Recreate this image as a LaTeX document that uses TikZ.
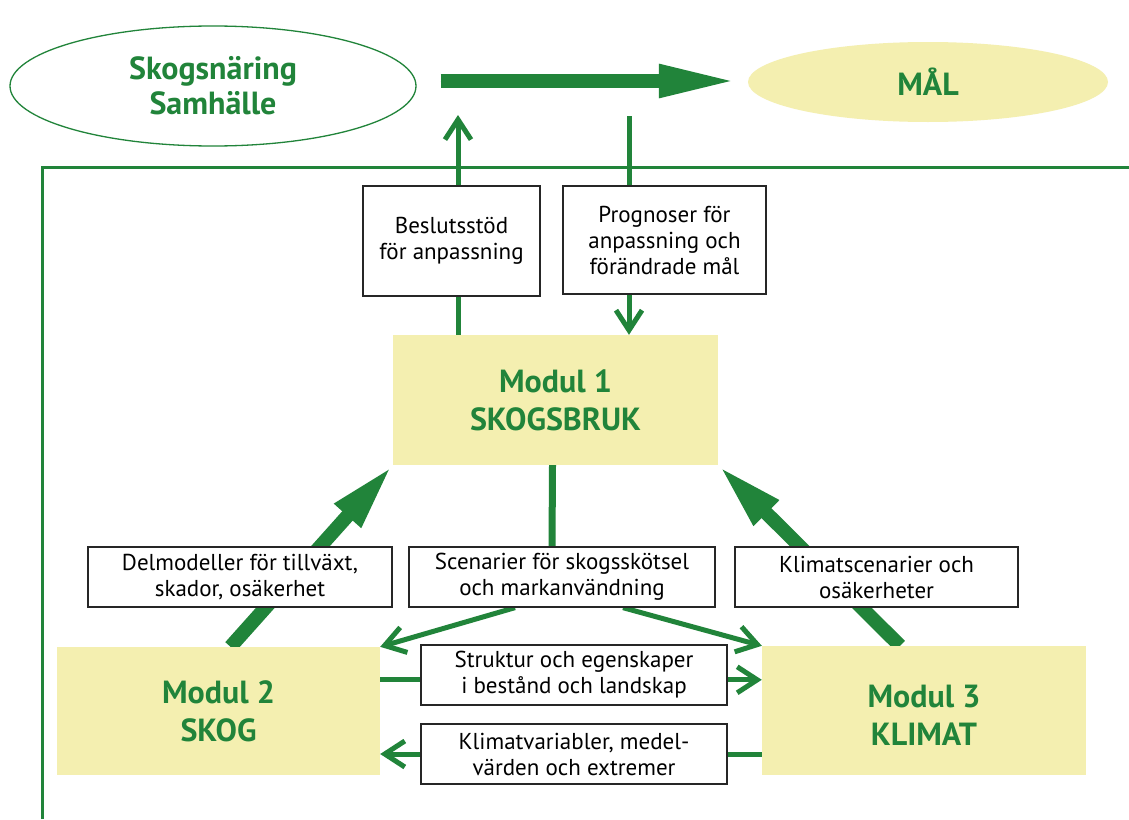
\documentclass[tikz,border=0pt]{standalone}
\usepackage{fontspec}
\setmainfont{PT Sans}
\usetikzlibrary{arrows.meta,calc,shapes.geometric}
\definecolor{fgreen}{RGB}{33,132,58}
\definecolor{fyellow}{RGB}{244,239,176}
\pgfdeclarelayer{paper}
\pgfdeclarelayer{bg}
\pgfsetlayers{paper,bg,main}
\begin{document}
\begin{tikzpicture}[x=1pt,y=-1pt,
  txtbox/.style={draw=black!85, line width=1.3pt, fill=white, align=center,
    font=\fontsize{23}{26}\selectfont, inner sep=0pt},
  modbox/.style={fill=fyellow, align=center, text=fgreen,
    font=\fontsize{32}{38}\selectfont\bfseries, inner sep=0pt},
  thinline/.style={draw=fgreen, line width=5pt},
  thinarrow/.style={thinline, -{Straight Barb[length=20pt,width=26pt]}},
  bigarrow/.style={draw=fgreen, fill=fgreen, line width=14pt,
    -{Triangle[length=68pt,width=32pt]}},
  toparrow/.style={draw=fgreen, fill=fgreen, line width=14pt,
    -{Triangle[length=80pt,width=30pt]}},
]
\useasboundingbox (0,0) rectangle (1129,819);
\begin{pgfonlayer}{paper}
\fill[white] (0,0) rectangle (1129,819);
\end{pgfonlayer}

% frame
\draw[fgreen, line width=3pt] (42,819) -- (42,167) -- (1129,167);

% top ellipses
\node[ellipse, draw=fgreen, line width=1.3pt, minimum width=406pt, minimum height=120pt,
  inner sep=0pt, text=fgreen, align=center, font=\fontsize{32}{35}\selectfont\bfseries]
  (soc) at (213,86) {Skogsnäring\\Samhälle};
\node[ellipse, fill=fyellow, minimum width=360pt, minimum height=80pt, inner sep=0pt,
  text=fgreen, font=\fontsize{32}{35}\selectfont\bfseries] (mal) at (928,82) {MÅL};

% text boxes
\node[txtbox, minimum width=177pt, minimum height=110pt] (b1) at (451.5,241)
  {Beslutsstöd\\för anpassning};
\node[txtbox, minimum width=203pt, minimum height=108pt] (b2) at (664.5,240)
  {Prognoser för\\anpassning och\\förändrade mål};
\node[txtbox, minimum width=304pt, minimum height=60pt] (dm) at (240,577)
  {Delmodeller för tillväxt,\\skador, osäkerhet};
\node[txtbox, minimum width=306pt, minimum height=60pt] (sc) at (562,577)
  {Scenarier för skogsskötsel\\och markanvändning};
\node[txtbox, minimum width=283pt, minimum height=60pt] (kl) at (876.5,577)
  {Klimatscenarier och\\osäkerheter};
\node[txtbox, minimum width=306pt, minimum height=60pt] (st) at (574,675)
  {Struktur och egenskaper\\i bestånd och landskap};
\node[txtbox, minimum width=306pt, minimum height=60pt] (kv) at (574,754)
  {Klimatvariabler, medel-\\värden och extremer};

% modules
\node[modbox, minimum width=325pt, minimum height=130pt] (m1) at (555.5,400)
  {Modul 1\\SKOGSBRUK};
\node[modbox, minimum width=323pt, minimum height=128pt] (m2) at (218.5,711)
  {Modul 2\\SKOG};
\node[modbox, minimum width=324pt, minimum height=129pt] (m3) at (924,710.5)
  {\\[-6pt]Modul 3\\KLIMAT};

\coordinate (upTip) at (458,115);
\coordinate (downStart) at (629,116);

\begin{pgfonlayer}{bg}
  % big top arrow
  \draw[toparrow] ($(soc.east)+(24,-5)$) -- ($(mal.west)+(-9,-1)$);
  % up / down arrows
  \draw[thinline] (m1.north -| upTip) -- (b1.south -| upTip);
  \draw[thinarrow] (b1.north -| upTip) -- (upTip);
  \draw[thinline] (downStart) -- (b2.north -| downStart);
  \draw[thinarrow] (b2.south -| downStart) -- (m1.north -| downStart);
  % middle
  \draw[draw=fgreen, line width=7pt] ($(m1.south)+(-3,0)$) -- ($(sc.north)+(-10,0)$);
  \draw[thinarrow] ($(sc.south)+(-47,0)$) -- (m2.north east);
  \draw[thinarrow] ($(sc.south)+(61,0)$) -- (m3.north west);
  % diagonals
  \draw[bigarrow] ($(m2.north)+(12,0)$) -- (m1.south west);
  \draw[bigarrow] ($(m3.north)+(-24,0)$) -- (m1.south east);
  % horizontals
  \draw[thinarrow] ($(m2.north east)+(0,33)$) -- ($(m3.north west)+(0,34)$);
  \draw[thinarrow] (m3.west |- kv) -- (m2.east |- kv);
\end{pgfonlayer}
\end{tikzpicture}
\end{document}
